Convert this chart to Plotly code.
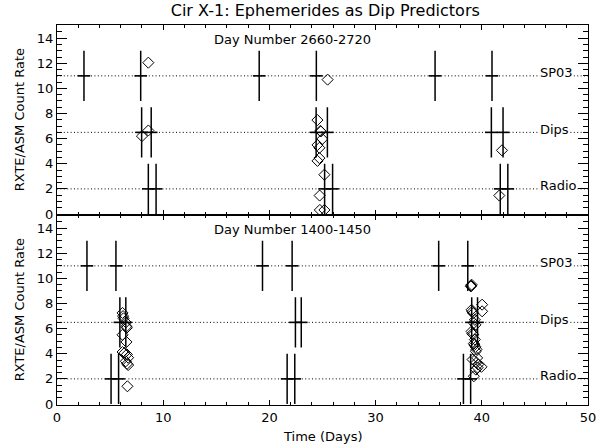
import plotly.graph_objects as go
from plotly.subplots import make_subplots

# ---------------- data ----------------
level_names = ["SP03", "Dips", "Radio"]
level_values = [11, 6.5, 2]
err_half = 2

panel_titles = ["Day Number 2660-2720", "Day Number 1400-1450"]

# top panel (Day 2660-2720)
top_sp03 = [2.54, 7.88, 19.04, 24.42, 35.6, 40.96]
top_dips = [7.97, 8.87, 24.4, 25.46, 40.9, 42.0]
top_radio = [8.6, 9.33, 25.2, 25.95, 41.74, 42.45]
top_obs_x = [8.6, 8.0, 8.6, 25.48, 24.52, 24.84, 24.80, 24.98, 24.53, 24.71,
             24.71, 24.53, 25.18, 24.73, 24.75, 25.18, 41.9, 41.65]
top_obs_y = [12.05, 6.2, 6.65, 10.7, 7.48, 6.57, 6.62, 5.97, 5.5, 5.27,
             4.45, 4.23, 3.13, 1.47, 0.32, 0.32, 5.07, 1.47]

# bottom panel (Day 1400-1450)
bot_sp03 = [2.82, 5.55, 19.35, 22.14, 35.94, 38.68]
bot_dips = [5.92, 6.48, 22.45, 23.0, 39.05, 39.6]
bot_radio = [5.09, 5.8, 21.67, 22.39, 38.27, 38.95]
bot_obs_x = [6.17, 6.26, 6.22, 6.48, 6.54, 6.58, 6.17, 6.54, 6.17, 6.36,
             6.58, 6.70, 6.48, 6.70, 6.60, 6.63,
             39.04, 38.97, 39.0, 40.03, 40.03, 39.04, 39.19, 39.1, 39.35, 39.25,
             39.4, 39.04, 39.19, 39.1, 39.35, 39.25, 39.41, 39.3, 39.44, 39.5,
             39.13, 39.56, 39.66, 39.5, 39.97, 39.44, 39.6, 39.25]
bot_obs_y = [7.25, 6.82, 7.0, 6.5, 6.18, 6.08, 5.51, 4.94, 4.14, 4.07,
             3.95, 3.69, 3.4, 3.1, 3.2, 1.41,
             9.5, 9.36, 9.42, 7.91, 7.38, 7.5, 7.23, 7.35, 6.7, 6.45,
             6.3, 5.78, 5.52, 5.6, 5.13, 4.81, 4.55, 4.7, 4.2, 4.35,
             3.54, 3.67, 3.14, 3.3, 2.96, 2.74, 2.9, 2.21]

x_ticks = [0, 10, 20, 30, 40, 50]
y_ticks = [0, 2, 4, 6, 8, 10, 12, 14]

panels = [
    (panel_titles[0], [top_sp03, top_dips, top_radio], top_obs_x, top_obs_y),
    (panel_titles[1], [bot_sp03, bot_dips, bot_radio], bot_obs_x, bot_obs_y),
]

FONT = "DejaVu Sans, Verdana, sans-serif"
BLACK = "#000000"

fig = make_subplots(rows=2, cols=1, shared_xaxes=True, vertical_spacing=0)

for i, (ptitle, crosses, ox, oy) in enumerate(panels):
    row = i + 1
    # dotted reference lines
    for lv in level_values:
        fig.add_trace(go.Scatter(
            x=[x_ticks[0], x_ticks[-1]], y=[lv, lv], mode="lines",
            line=dict(color=BLACK, width=1, dash="1px,2.4px"),
            hoverinfo="skip", showlegend=False), row=row, col=1)
    # predicted epochs (crosses with error bars)
    for xs, lv in zip(crosses, level_values):
        fig.add_trace(go.Scatter(
            x=xs, y=[lv] * len(xs), mode="markers",
            marker=dict(symbol="line-ew", size=9,
                        line=dict(color=BLACK, width=1.6)),
            error_y=dict(type="constant", value=err_half, width=0,
                         thickness=1.5, color=BLACK),
            showlegend=False), row=row, col=1)
    # observed count rates (diamonds)
    fig.add_trace(go.Scatter(
        x=ox, y=oy, mode="markers",
        marker=dict(symbol="diamond-open", size=8.5,
                    line=dict(color=BLACK, width=1.0), color=BLACK),
        showlegend=False), row=row, col=1)

axis_common = dict(
    showline=True, linecolor=BLACK, linewidth=1.3, mirror="allticks",
    ticks="inside", tickcolor=BLACK, showgrid=False, zeroline=False,
    tickfont=dict(family=FONT, size=13, color=BLACK),
)

for row in (1, 2):
    fig.update_xaxes(range=[0, 50], tickvals=x_ticks, ticklen=5, tickwidth=1.2,
                     minor=dict(dtick=2, ticklen=3, tickwidth=1.2, ticks="inside",
                                tickcolor=BLACK, showgrid=False),
                     showticklabels=(row == 2), row=row, col=1, **axis_common)
    fig.update_yaxes(range=[-0.08, 15.05], tickvals=y_ticks, ticklen=10, tickwidth=1.2,
                     minor=dict(dtick=0.5, ticklen=5, tickwidth=1.2, ticks="inside",
                                tickcolor=BLACK, showgrid=False),
                     row=row, col=1, **axis_common)

annotations = []
yrefs = ["y", "y2"]
xrefs = ["x", "x2"]
for i, ptitle in enumerate(panel_titles):
    annotations.append(dict(x=22.2, y=13.9, xref=xrefs[i], yref=yrefs[i],
                            text=ptitle, showarrow=False, xanchor="center",
                            yanchor="middle",
                            font=dict(family=FONT, size=13, color=BLACK)))
    for name, lv in zip(level_names, level_values):
        annotations.append(dict(x=45.35, y=lv, xref=xrefs[i], yref=yrefs[i],
                                text=name, showarrow=False, xanchor="left",
                                yanchor="middle", yshift=3, bgcolor="white",
                                borderpad=0,
                                font=dict(family=FONT, size=13, color=BLACK)))
    annotations.append(dict(x=-0.071, y=0.75 - 0.5 * i, xref="paper", yref="paper",
                            text="RXTE/ASM Count Rate", textangle=-90,
                            showarrow=False, xanchor="center", yanchor="middle",
                            font=dict(family=FONT, size=13, color=BLACK)))

annotations.append(dict(x=0.5, y=-0.082, xref="paper", yref="paper",
                        text="Time (Days)", showarrow=False, xanchor="center",
                        yanchor="middle",
                        font=dict(family=FONT, size=13, color=BLACK)))

fig.update_layout(
    width=608, height=445, autosize=False,
    margin=dict(l=57, r=14, t=25, b=40),
    paper_bgcolor="white", plot_bgcolor="white",
    title=dict(text="Cir X-1: Ephemerides as Dip Predictors", x=0.535, xanchor="center",
               y=0.977, yanchor="middle", yref="container",
               font=dict(family=FONT, size=16, color=BLACK)),
    annotations=annotations,
    font=dict(family=FONT, color=BLACK),
)

fig.write_html("out.html", config={"displayModeBar": False},
               post_script="document.body.style.margin='0';document.body.style.overflow='hidden';")
